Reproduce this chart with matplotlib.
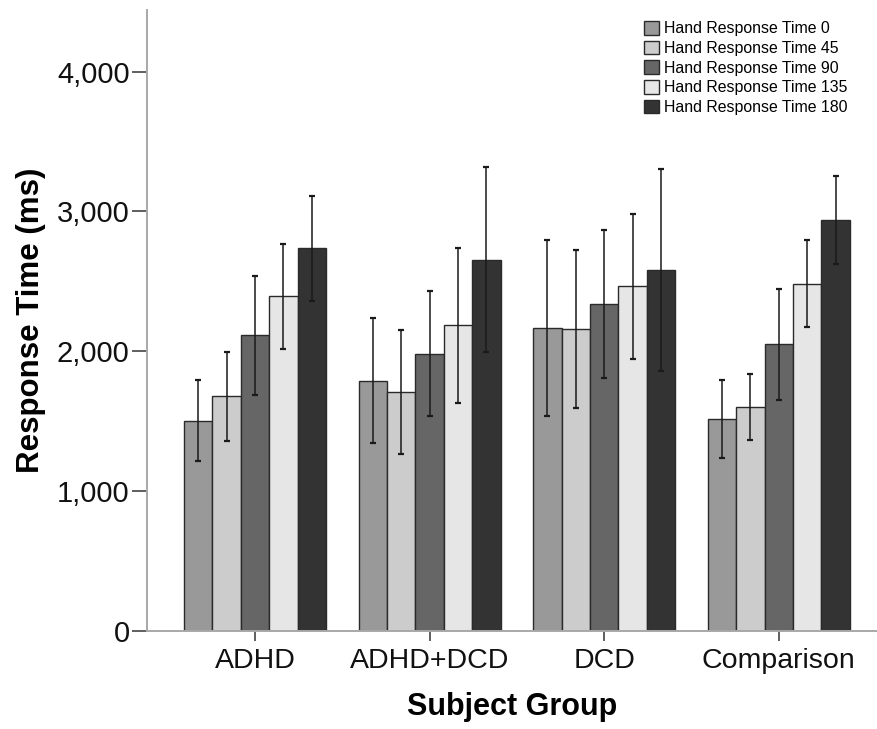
import numpy as np
import matplotlib
matplotlib.use("Agg")
import matplotlib.pyplot as plt
from matplotlib.ticker import FuncFormatter

plt.rcParams['font.family'] = ['Liberation Sans', 'DejaVu Sans']

# data (mean response time, half-width of error bar)
groups = ["ADHD", "ADHD+DCD", "DCD", "Comparison"]
series = ["Hand Response Time 0", "Hand Response Time 45", "Hand Response Time 90",
          "Hand Response Time 135", "Hand Response Time 180"]

rt_0   = [1505, 1789, 2166, 1515]
rt_45  = [1677, 1708, 2159, 1601]
rt_90  = [2113, 1982, 2340, 2049]
rt_135 = [2392, 2185, 2464, 2483]
rt_180 = [2736, 2655, 2578, 2936]

err_0   = [288, 446, 632, 278]
err_45  = [318, 441, 564, 235]
err_90  = [428, 447, 528, 397]
err_135 = [378, 555, 520, 313]
err_180 = [375, 660, 722, 314]

means = [rt_0, rt_45, rt_90, rt_135, rt_180]
errs  = [err_0, err_45, err_90, err_135, err_180]
colors = ["#999999", "#cccccc", "#666666", "#e6e6e6", "#333333"]

fig = plt.figure(figsize=(8.78, 7.29), dpi=100)
ax = fig.add_axes([147/878, 98/729, 1 - 147/878, 621/729])

x = np.arange(len(groups))
w = 0.1627
for i in range(5):
    pos = x + (i - 2) * w
    ax.bar(pos, means[i], width=w, color=colors[i], edgecolor="#2a2a2a",
           linewidth=1.0, label=series[i], zorder=2)
    ax.errorbar(pos, means[i], yerr=errs[i], fmt="none", ecolor="#1a1a1a",
                elinewidth=1.1, capsize=2.5, capthick=1.6, zorder=3)

ax.set_xlim(-0.6186, 3.568)
ax.set_ylim(0, 4440)
ax.set_yticks([0, 1000, 2000, 3000, 4000])
ax.yaxis.set_major_formatter(FuncFormatter(lambda v, p: f"{int(v):,}"))
ax.set_xticks(x)
ax.set_xticklabels(groups)

for s in ["top", "right"]:
    ax.spines[s].set_visible(False)
for s in ["left", "bottom"]:
    ax.spines[s].set_color("#a8a8a8")
    ax.spines[s].set_linewidth(1.4)

ax.tick_params(axis="y", length=11, width=1.2, color="#444444", pad=1.5,
               labelsize=21, labelcolor="#111111")
ax.tick_params(axis="x", length=7, width=1.2, color="#444444", pad=5,
               labelsize=20.5, labelcolor="#111111")

ax.set_ylabel("Response Time (ms)", fontsize=22.5, fontweight="bold", labelpad=8)
ax.set_xlabel("Subject Group", fontsize=22, fontweight="bold", labelpad=13)

leg = ax.legend(loc="upper left", bbox_to_anchor=(644/878, 1 - 21/729),
                bbox_transform=fig.transFigure, frameon=False, fontsize=11.4,
                handlelength=0.95, handleheight=0.95, handletextpad=0.3,
                labelspacing=0.28, borderaxespad=0, borderpad=0)

fig.savefig("out.png", dpi=100)
